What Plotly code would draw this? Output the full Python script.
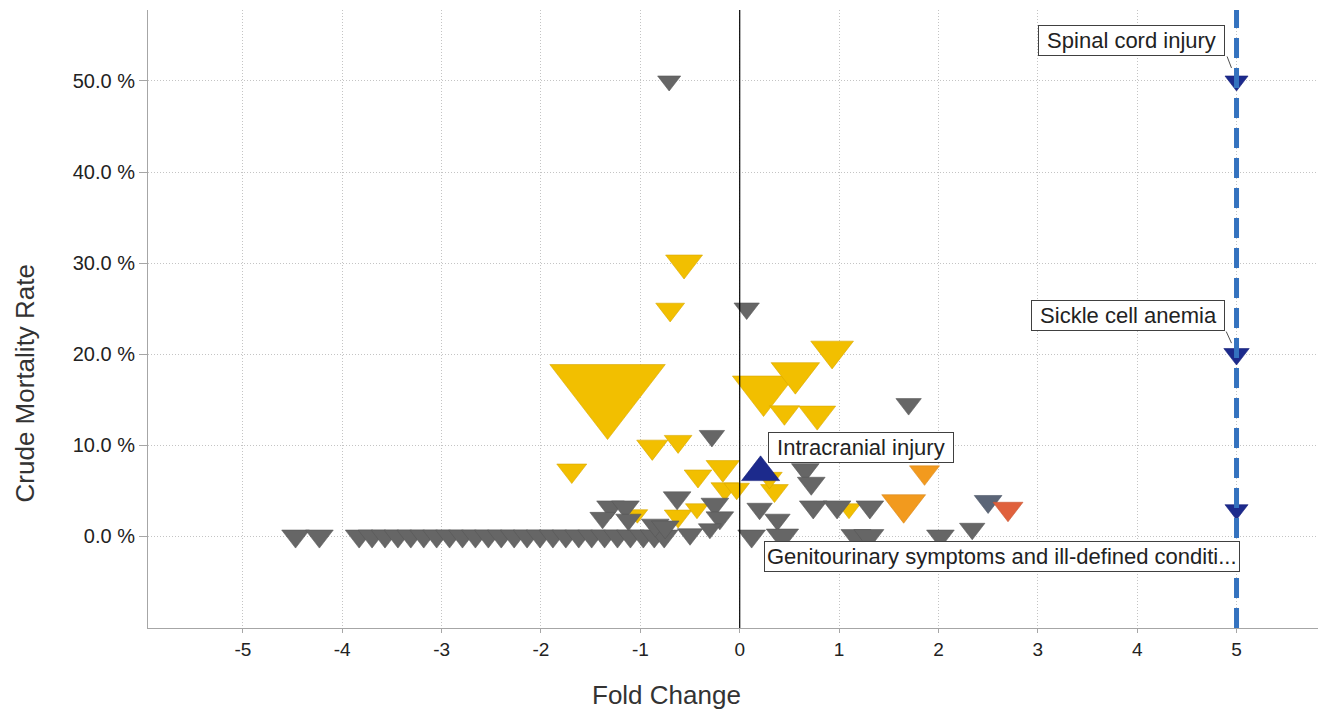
import plotly.graph_objects as go

# ---------------- data ----------------
# not-significant (gray) diagnoses: fold change, crude mortality rate (%), marker size
gray_x = [-4.47, -4.23,
          -3.83, -3.70, -3.57, -3.44, -3.31, -3.18, -3.05, -2.92, -2.79, -2.66, -2.53,
          -2.40, -2.27, -2.14, -2.01, -1.88, -1.75, -1.62, -1.49, -1.36, -1.23, -1.10,
          -0.97, -0.86, -0.76,
          -0.71, 0.07, -0.28, 1.70, 0.66, 0.72, -0.63, -1.30, -1.15, -1.38, -1.12,
          -0.85, -0.75, -0.50, -0.25, -0.20, -0.30, 0.12, 0.20, 0.38, 0.43, 0.74,
          0.98, 1.31, 1.17, 1.30, 2.02, 2.34]
gray_y = [0, 0,
          0, 0, 0, 0, 0, 0, 0, 0, 0, 0, 0,
          0, 0, 0, 0, 0, 0, 0, 0, 0, 0, 0,
          0, 0, 0,
          50.0, 25.0, 11.0, 14.5, 7.3, 5.8, 4.2, 3.2, 3.2, 2.0, 1.8,
          1.2, 1.0, 0.2, 3.5, 2.0, 0.8, 0.0, 3.0, 1.8, 0.0, 3.2,
          3.2, 3.2, 0.0, 0.0, 0.0, 0.8]
gray_s = [24, 24,
          24, 24, 24, 24, 24, 24, 24, 24, 24, 24, 24,
          24, 24, 24, 24, 24, 24, 24, 24, 24, 24, 24,
          24, 24, 24,
          20, 22, 22, 22, 24, 24, 24, 24, 24, 22, 22,
          24, 24, 22, 24, 24, 20, 24, 22, 22, 28, 24,
          24, 24, 26, 26, 24, 22]

# significant decrease/increase (yellow)
yel_x = [-0.56, -0.70, -1.33, -0.88, -0.62, -1.69, -0.42, -0.17, -0.15, -0.03,
         -0.62, -0.43, -1.03, 0.35, 0.30, 1.10,
         0.24, 0.56, 0.93, 0.45, 0.78]
yel_y = [30.0, 24.9, 16.1, 9.8, 10.4, 7.2, 6.6, 7.5, 5.2, 5.2,
         2.2, 3.0, 2.4, 5.0, 6.4, 3.0,
         16.1, 17.9, 20.4, 13.6, 13.4]
yel_s = [32, 25, 100, 27, 24, 26, 24, 29, 24, 22,
         24, 20, 18, 24, 22, 20,
         54, 42, 37, 26, 32]

# orange / red-orange / blue-gray diagnoses
org_x = [1.86, 1.65]
org_y = [7.0, 3.5]
org_s = [26, 38]

red_x = [2.70]
red_y = [3.0]
red_s = [26]

bgr_x = [2.50]
bgr_y = [3.8]
bgr_s = [24]

# highlighted (labelled) diagnoses
hi_labels = ["Spinal cord injury", "Sickle cell anemia",
             "Genitourinary symptoms and ill-defined conditi..."]
hi_x = [5.0, 5.0, 5.0]
hi_y = [50.0, 20.0, 2.9]
hi_s = [20, 22, 20]

up_label = "Intracranial injury"
up_x = [0.21]
up_y = [7.0]
up_s = [33]

x_ticks = [-5, -4, -3, -2, -1, 0, 1, 2, 3, 4, 5]
x_ticktext = ["-5", "-4", "-3", "-2", "-1", "0", "1", "2", "3", "4", "5"]
y_ticks = [0, 10, 20, 30, 40, 50]
y_ticktext = ["0.0 %", "10.0 %", "20.0 %", "30.0 %", "40.0 %", "50.0 %"]

threshold_x = 5.0

# ---------------- figure ----------------
FONT = "Arial, Liberation Sans, sans-serif"
fig = go.Figure()


def add_markers(xs, ys, ss, color, line_color, symbol="triangle-down"):
    fig.add_trace(go.Scatter(
        x=xs, y=ys, mode="markers",
        marker=dict(symbol=symbol, size=ss, color=color, opacity=1,
                    line=dict(color=line_color, width=0.6)),
        hoverinfo="x+y", showlegend=False))


add_markers(yel_x, yel_y, yel_s, "#F2BF00", "#D9A800")
add_markers(gray_x, gray_y, gray_s, "#666666", "#585858")
add_markers(org_x, org_y, org_s, "#F29A1E", "#D9861A")
add_markers(bgr_x, bgr_y, bgr_s, "#5B6577", "#4E5768")
add_markers(red_x, red_y, red_s, "#E0613D", "#C85533")
add_markers(hi_x, hi_y, hi_s, "#1C2A8C", "#15207A")
add_markers(up_x, up_y, up_s, "#1C2A8C", "#15207A", symbol="triangle-up")

# vertical zero line and threshold line (above markers)
fig.add_shape(type="line", xref="x", yref="paper", x0=0, x1=0, y0=0, y1=1,
              line=dict(color="#000000", width=1.2), layer="above")
fig.add_shape(type="line", xref="x", yref="paper", x0=threshold_x, x1=threshold_x,
              y0=0, y1=1, line=dict(color="#3472BF", width=5, dash="20px,10px"),
              layer="above")

NB = "\u00a0"
box_style = dict(showarrow=False, bgcolor="#FFFFFF", bordercolor="#404040",
                 borderwidth=1, borderpad=2,
                 font=dict(family=FONT, size=22, color="#222222"),
                 xref="x", yref="y", xanchor="center", yanchor="middle")
conn_style = dict(showarrow=True, arrowhead=0, arrowwidth=1, arrowcolor="#505050",
                  text="", xref="x", yref="y", axref="pixel", ayref="pixel")

# label boxes (offset in pixels from their points)
fig.add_annotation(x=hi_x[0], y=hi_y[0], text=NB + hi_labels[0] + NB,
                   xshift=-105, yshift=40, **box_style)
fig.add_annotation(x=hi_x[1], y=hi_y[1], text=NB + hi_labels[1] + NB,
                   xshift=-109, yshift=39, **box_style)
fig.add_annotation(x=hi_x[2], y=hi_y[2], text=hi_labels[2],
                   xshift=-235, yshift=-47, **box_style)
fig.add_annotation(x=up_x[0], y=up_y[0], text=NB + up_label + NB,
                   xshift=100, yshift=25, **box_style)

# short connectors from box corners to points
fig.add_annotation(x=hi_x[0], y=hi_y[0], ax=-10, ay=-26, standoff=14, **conn_style)
fig.add_annotation(x=hi_x[1], y=hi_y[1], ax=-11, ay=-24, standoff=12, **conn_style)

# axis titles
fig.add_annotation(text="Fold Change", xref="paper", yref="paper",
                   x=0.443, y=-0.108, xanchor="center", yanchor="middle",
                   showarrow=False, font=dict(family=FONT, size=26, color="#333333"))
fig.add_annotation(text="Crude Mortality Rate", xref="paper", yref="paper",
                   x=-0.105, y=0.396, xanchor="center", yanchor="middle",
                   textangle=-90, showarrow=False,
                   font=dict(family=FONT, size=26, color="#333333"))

fig.update_layout(
    width=1324, height=713,
    margin=dict(l=148, r=6, t=10, b=85),
    plot_bgcolor="#FFFFFF", paper_bgcolor="#FFFFFF",
    font=dict(family=FONT, color="#333333"),
    showlegend=False,
    xaxis=dict(range=[-5.955, 5.82], tickvals=x_ticks, ticktext=x_ticktext,
               showgrid=True, gridcolor="#C4C4C4", griddash="1px,2px", gridwidth=1,
               zeroline=False, showline=True, linecolor="#A6A6A6", linewidth=1,
               ticks="outside", ticklen=4, tickcolor="#A6A6A6",
               tickfont=dict(family=FONT, size=19, color="#222222")),
    yaxis=dict(range=[-10.1, 57.8], tickvals=y_ticks, ticktext=y_ticktext,
               showgrid=True, gridcolor="#C4C4C4", griddash="1px,2px", gridwidth=1,
               zeroline=False, showline=True, linecolor="#A6A6A6", linewidth=1,
               ticks="outside", ticklen=8, tickcolor="#A6A6A6",
               tickfont=dict(family=FONT, size=20, color="#222222")),
)

fig.write_html("out.html")
